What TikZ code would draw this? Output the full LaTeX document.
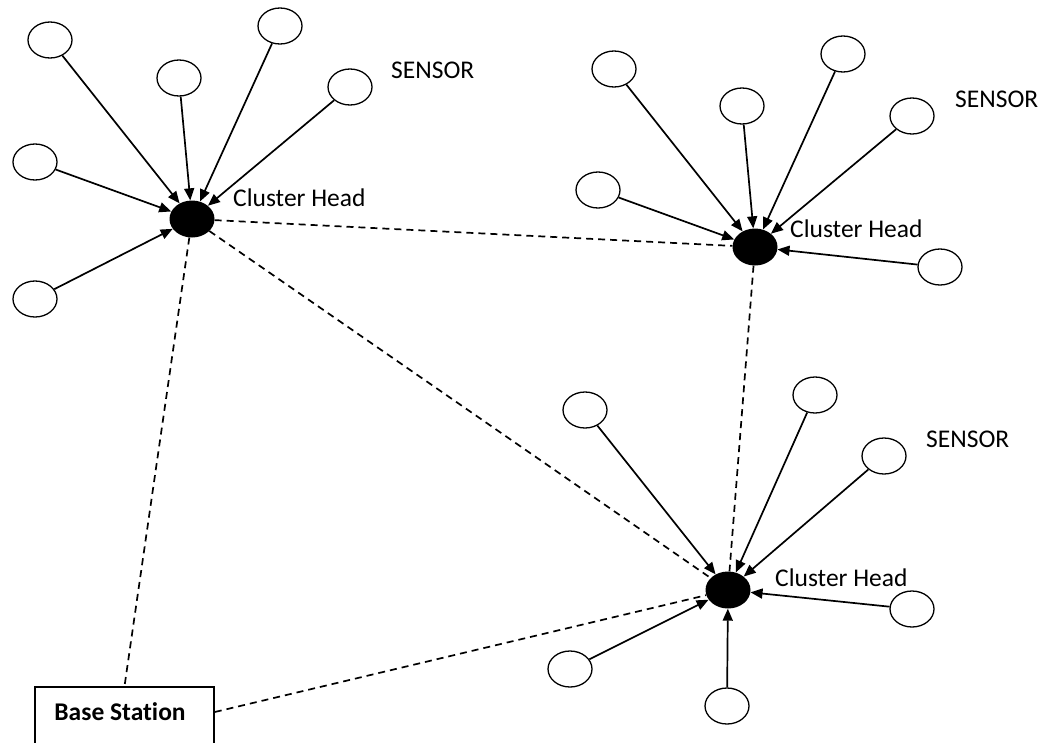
\documentclass[tikz,border=0pt]{standalone}
\usepackage{fontspec}
\setmainfont{Carlito}[Ligatures=NoCommon]
\usetikzlibrary{shapes.geometric,arrows.meta}
\begin{document}
\begin{tikzpicture}[x=1pt,y=-1pt,
  sensor/.style={draw,ellipse,line width=1.3pt,minimum width=44pt,minimum height=36pt,inner sep=0pt},
  head/.style={fill=black,ellipse,minimum width=45pt,minimum height=37pt,inner sep=0pt},
  arr/.style={line width=1.7pt,-{Triangle[length=12pt,width=10pt]}},
  link/.style={line width=1.7pt,dash pattern=on 7pt off 5pt},
  lbl/.style={font=\fontsize{25.5}{30}\selectfont,inner sep=0pt,anchor=west}]
\useasboundingbox (0,0) rectangle (1043,742);
\fill[white] (0,0) rectangle (1043,742);
% cluster 1
\node[head] (ch1) at (192,219) {};
\node[sensor] (a1) at (50,40) {};
\node[sensor] (a2) at (179,78) {};
\node[sensor] (a3) at (280,26) {};
\node[sensor] (a4) at (350,87) {};
\node[sensor] (a5) at (35,162) {};
\node[sensor] (a6) at (35,299) {};
\node[lbl] (t1) at (233,198) {Cluster Head};
\node[lbl] (sn1) at (391,70) {SENSOR};
\foreach \s in {a1,a2,a3,a4,a5,a6} \draw[arr] (\s) -- (ch1);
% cluster 2
\node[head] (ch2) at (755,247) {};
\node[sensor] (b1) at (614,69) {};
\node[sensor] (b2) at (742,106) {};
\node[sensor] (b3) at (843,54) {};
\node[sensor] (b4) at (912,116) {};
\node[sensor] (b5) at (598,190) {};
\node[sensor] (b6) at (940,267) {};
\node[lbl] (t2) at (790,229) {Cluster Head};
\node[lbl] (sn2) at (955,99) {SENSOR};
\foreach \s in {b1,b2,b3,b4,b5,b6} \draw[arr] (\s) -- (ch2);
% cluster 3
\node[head] (ch3) at (728,590) {};
\node[sensor] (c1) at (585,410) {};
\node[sensor] (c2) at (815,395) {};
\node[sensor] (c3) at (884,456) {};
\node[sensor] (c4) at (912,609) {};
\node[sensor] (c5) at (570,669) {};
\node[sensor] (c6) at (727,706) {};
\node[lbl] (t3) at (775,578) {Cluster Head};
\node[lbl] (sn3) at (926,439) {SENSOR};
\foreach \s in {c1,c2,c3,c4,c5,c6} \draw[arr] (\s) -- (ch3);
% base station
\node[draw,line width=1.6pt,rectangle,minimum width=179pt,minimum height=80pt,inner sep=0pt] (bs) at (124.5,727) {};
\node[font=\fontsize{25.5}{30}\selectfont\bfseries,inner sep=0pt] (bst) at (120,712) {Base Station};
% links
\draw[link] (ch1) -- (ch2);
\draw[link] (ch1) -- (ch3);
\draw[link] (ch2) -- (ch3);
\draw[link] (ch1) -- (bs.north);
\draw[link] (bs.east |- bst.center) -- (ch3);
\end{tikzpicture}
\end{document}
